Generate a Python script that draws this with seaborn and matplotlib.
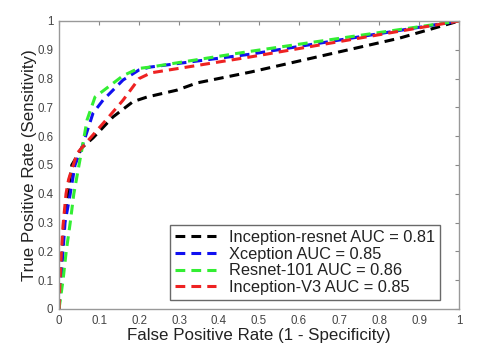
import numpy as np
import pandas as pd
import matplotlib
matplotlib.use("Agg")
import matplotlib.pyplot as plt
import seaborn as sns

# ROC points
models = ["Inception-resnet AUC = 0.81", "Xception AUC = 0.85",
          "Resnet-101 AUC = 0.86", "Inception-V3 AUC = 0.85"]
colors = ["#000000", "#1010f0", "#33ee33", "#ee2222"]

fpr_resnet = [0, 0.003, 0.008, 0.013, 0.022, 0.032, 0.045, 0.057, 0.085, 0.135, 0.185, 0.22, 0.295, 0.345, 0.48, 0.85, 1]
tpr_resnet = [0, 0.10, 0.20, 0.30, 0.40, 0.50, 0.53, 0.56, 0.594, 0.667, 0.72, 0.736, 0.76, 0.785, 0.823, 0.94, 1]

fpr_xcep = [0, 0.005, 0.010, 0.015, 0.028, 0.040, 0.057, 0.085, 0.11, 0.16, 0.20, 0.228, 0.48, 0.90, 1]
tpr_xcep = [0, 0.10, 0.20, 0.30, 0.40, 0.50, 0.56, 0.68, 0.725, 0.795, 0.83, 0.84, 0.885, 0.978, 1]

fpr_res101 = [0, 0.010, 0.018, 0.028, 0.037, 0.050, 0.058, 0.07, 0.09, 0.107, 0.16, 0.198, 0.228, 0.48, 0.90, 1]
tpr_res101 = [0, 0.10, 0.20, 0.30, 0.40, 0.50, 0.56, 0.656, 0.736, 0.754, 0.81, 0.835, 0.84, 0.895, 0.98, 1]

fpr_incv3 = [0, 0.0025, 0.006, 0.010, 0.0175, 0.024, 0.045, 0.057, 0.12, 0.16, 0.20, 0.23, 0.4775, 0.895, 1]
tpr_incv3 = [0, 0.10, 0.20, 0.29, 0.40, 0.45, 0.54, 0.56, 0.66, 0.725, 0.80, 0.82, 0.875, 0.975, 1]

tick_labels = ["0", "0.1", "0.2", "0.3", "0.4", "0.5", "0.6", "0.7", "0.8", "0.9", "1"]

frames = []
for name, fx, ty in zip(models,
                        [fpr_resnet, fpr_xcep, fpr_res101, fpr_incv3],
                        [tpr_resnet, tpr_xcep, tpr_res101, tpr_incv3]):
    frames.append(pd.DataFrame({"fpr": fx, "tpr": ty, "model": name}))
df = pd.concat(frames, ignore_index=True)

sns.set_style("white")
plt.rcParams["font.family"] = ["Liberation Sans", "DejaVu Sans"]

fig = plt.figure(figsize=(4.81, 3.6), dpi=100)
ax = fig.add_axes([0.1227, 0.1417, 0.8316, 0.8])

sns.lineplot(data=df, x="fpr", y="tpr", hue="model", hue_order=models,
             palette=colors, sort=False, estimator=None, linewidth=2.2,
             ax=ax, legend=False)
for ln in ax.get_lines():
    ln.set_dashes((3.2, 2.0))

ax.set_xlim(0, 1)
ax.set_ylim(0, 1)
ax.set_xticks(np.linspace(0, 1, 11))
ax.set_yticks(np.linspace(0, 1, 11))
ax.set_xticklabels(tick_labels)
ax.set_yticklabels(tick_labels)
ax.tick_params(direction="in", length=3, width=0.8, colors="#888888",
               labelcolor="#444444", labelsize=8.3, top=True, right=True, pad=4)
for sp in ax.spines.values():
    sp.set_color("#999999")
    sp.set_linewidth(1.0)

ax.set_xlabel("False Positive Rate (1 - Specificity)", fontsize=12.2, color="#222222", labelpad=1)
ax.set_ylabel("True Positive Rate (Sensitivity)", fontsize=12.2, color="#222222", labelpad=0)

handles = [plt.Line2D([0], [0], color=c, lw=2.2, dashes=(3.2, 2.0)) for c in colors]
leg = ax.legend(handles, models, loc="lower right", bbox_to_anchor=(0.96, 0.02),
                fontsize=11.8, frameon=True, fancybox=False, handlelength=2.5,
                handletextpad=0.8, labelspacing=0.1, borderpad=0.3,
                borderaxespad=0.2)
leg.get_frame().set_edgecolor("#444444")
leg.get_frame().set_linewidth(1.0)
for t in leg.get_texts():
    t.set_color("#222222")

fig.savefig("out.png", dpi=100)
